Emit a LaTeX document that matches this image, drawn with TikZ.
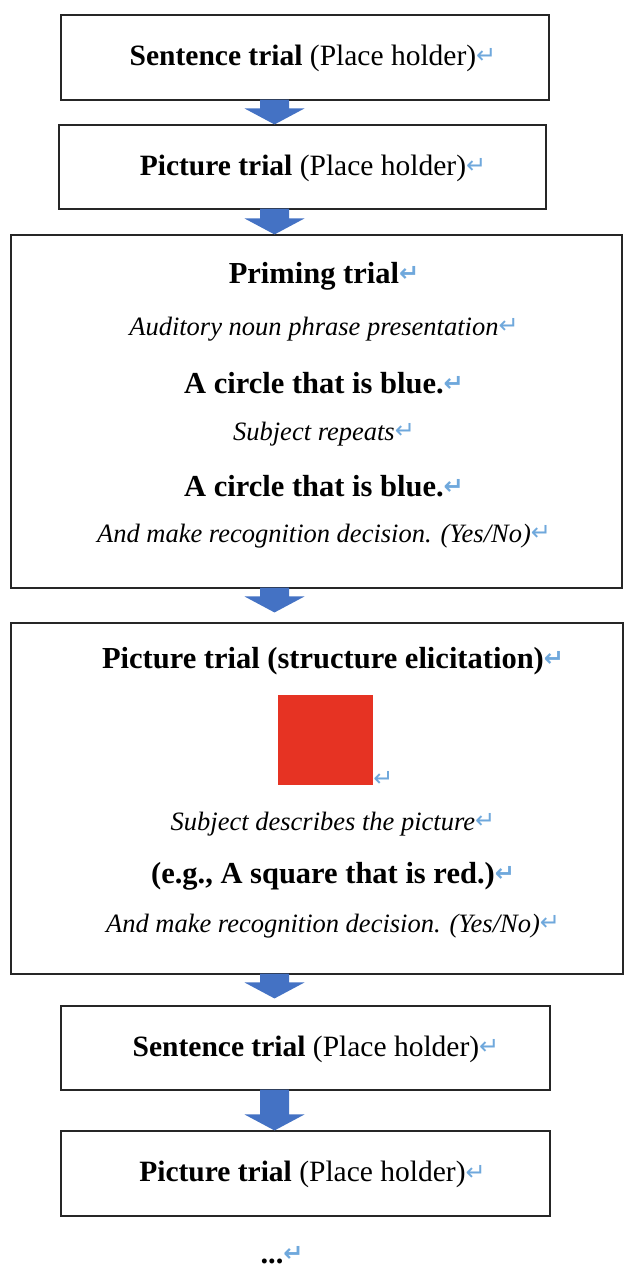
\documentclass[tikz,border=0pt]{standalone}
\usepackage{fontspec}
\setmainfont{Liberation Serif}
\newfontfamily\symfont{DejaVu Sans}
\usetikzlibrary{calc}
\definecolor{arrowblue}{HTML}{4472C4}
\definecolor{retblue}{HTML}{6FA8DC}
\definecolor{squarered}{HTML}{E63323}
\newcommand\ret{{\symfont\fontsize{24}{24}\selectfont\raisebox{1.5pt}{\textcolor{retblue}{↵}}}}
\newcommand\blockarrow[2]{\fill[arrowblue] let \p1=(#1), \p2=(#2) in
  (\x1-14.5pt,\y1+1pt) -- (\x1+14.5pt,\y1+1pt) -- (\x1+14.5pt,\y2+16pt) -- (\x1+30pt,\y2+16pt)
  -- (\x1,\y2) -- (\x1-30pt,\y2+16pt) -- (\x1-14.5pt,\y2+16pt) -- cycle;}
\begin{document}
\begin{tikzpicture}[x=1pt,y=1pt,
  box/.style={draw=black!85, line width=1.1pt, inner sep=0pt},
  smallbox/.style={box, minimum width=488pt, minimum height=85pt},
  txt/.style={inner sep=0pt, font=\fontsize{29.5}{34}\selectfont},
  itxt/.style={inner sep=0pt, font=\fontsize{26.5}{31}\selectfont\itshape},
  btxt/.style={inner sep=0pt, font=\fontsize{30.5}{35}\selectfont\bfseries}]
\useasboundingbox[fill=white] (0,0) rectangle (625,-1268);

% boxes
\node[smallbox] (b1) at (305,-57.5) {};
\node[smallbox, minimum width=487pt, minimum height=84pt] (b2) at (302.5,-167) {};
\node[box, minimum width=611pt, minimum height=353pt] (b3) at (316.5,-411.5) {};
\node[box, minimum width=612pt, minimum height=351pt] (b4) at (317,-798.5) {};
\node[smallbox, minimum width=489pt, minimum height=84pt] (b5) at (305.5,-1048) {};
\node[smallbox, minimum width=489pt] (b6) at (305.5,-1173.5) {};

% texts in small boxes
\node[txt] (t1) at (313,-58) {\textbf{Sentence trial} (Place holder)\ret};
\node[txt] (t2) at (313,-168) {\textbf{Picture trial} (Place holder)\ret};
\node[txt] (t5) at (316,-1049) {\textbf{Sentence trial} (Place holder)\ret};
\node[txt] (t6) at (312.5,-1174.5) {\textbf{Picture trial} (Place holder)\ret};

% priming trial box
\node[btxt] (p1) at (324,-276) {Priming trial\ret};
\node[itxt] (p2) at (324,-329) {Auditory noun phrase presentation\ret};
\node[btxt] (p3) at (324,-383) {A circle that is blue.\ret};
\node[itxt] (p4) at (324,-434) {Subject repeats\ret};
\node[btxt] (p5) at (324,-486) {A circle that is blue.\ret};
\node[itxt] (p6) at (324,-536) {And make recognition decision. (Yes/No)\ret};

% picture trial (structure elicitation) box
\node[btxt] (q1) at (333,-661) {Picture trial (structure elicitation)\ret};
\node[fill=squarered, minimum width=95pt, minimum height=90pt, inner sep=0pt] (sq) at (325.5,-740) {};
\node[inner sep=0pt, anchor=south west] (sqret) at ([yshift=-3pt]sq.south east) {\ret};
\node[itxt] (q2) at (333,-824) {Subject describes the picture\ret};
\node[btxt] (q3) at (333,-876) {(e.g., A square that is red.)\ret};
\node[itxt] (q4) at (333,-926) {And make recognition decision. (Yes/No)\ret};

% ellipsis
\node[btxt, anchor=base] (dots) at (282,-1263) {...\ret};

% arrows
\coordinate (ax) at (274.5,0);
\coordinate (a1s) at (ax |- b1.south); \coordinate (a1e) at (ax |- b2.north);
\coordinate (a2s) at (ax |- b2.south); \coordinate (a2e) at (ax |- b3.north);
\coordinate (a3s) at (ax |- b3.south); \coordinate (a3e) at ($(ax |- b4.north)+(0,10)$);
\coordinate (a4s) at (ax |- b4.south); \coordinate (a4e) at ($(ax |- b5.north)+(0,7)$);
\coordinate (a5s) at (ax |- b5.south); \coordinate (a5e) at (ax |- b6.north);
\blockarrow{a1s}{a1e}
\blockarrow{a2s}{a2e}
\blockarrow{a3s}{a3e}
\blockarrow{a4s}{a4e}
\blockarrow{a5s}{a5e}
\end{tikzpicture}
\end{document}
